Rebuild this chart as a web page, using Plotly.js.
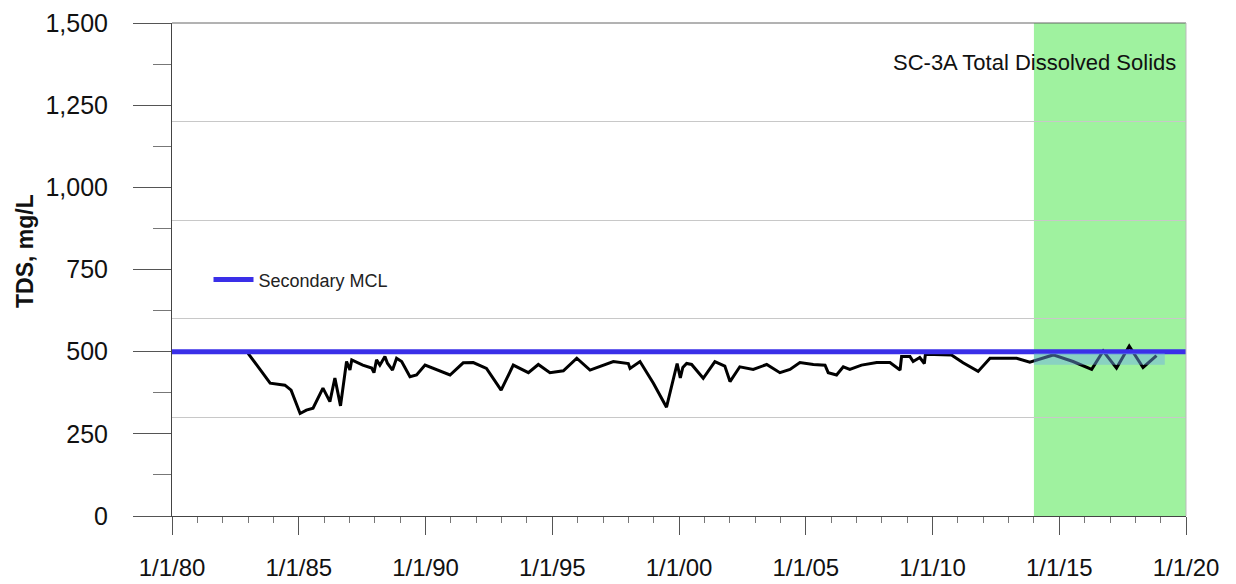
<!DOCTYPE html>
<html>
<head>
<meta charset="utf-8">
<script src="https://cdn.plot.ly/plotly-3.0.1.min.js"></script>
<style>html,body{margin:0;padding:0;background:#fff;}#chart{width:1236px;height:584px;}</style>
</head>
<body>
<div id="chart"></div>
<script>
// TDS sample dates and values (mg/L)
const sampleDates = [
 '1983-01-01','1983-11-15','1984-06-15','1984-09-12','1985-01-20','1985-04-20','1985-07-25','1985-12-15',
 '1986-03-25','1986-06-05','1986-08-25','1986-11-20','1987-01-08','1987-02-03','1987-07-12','1987-11-17',
 '1987-12-20','1988-01-26','1988-03-14','1988-05-26','1988-07-01','1988-09-12','1988-11-10','1989-01-22',
 '1989-05-22','1989-08-25','1989-12-25','1990-12-20','1991-06-28','1991-11-20','1992-05-28','1992-12-25',
 '1993-06-18','1994-01-22','1994-06-14','1994-11-28','1995-06-10','1995-12-20','1996-06-28','1997-05-30',
 '1998-01-01','1998-01-26','1998-06-18','1998-12-28','1999-07-05','1999-12-05','2000-01-20','2000-02-25',
 '2000-04-20','2000-07-01','2000-12-15','2001-06-01','2001-10-22','2002-01-05','2002-05-26','2002-12-05',
 '2003-06-18','2003-12-25','2004-05-18','2004-10-08','2005-04-20','2005-10-05','2005-11-20','2006-03-20',
 '2006-06-25','2006-09-27','2007-03-15','2007-10-20','2008-04-27','2008-09-20','2008-10-12','2009-02-10',
 '2009-03-28','2009-07-01','2009-09-05','2009-09-20','2010-10-01','2011-03-17','2011-10-20','2012-04-08',
 '2013-04-27','2013-11-03','2014-10-05','2015-07-18','2016-04-12','2016-09-25','2017-04-05','2017-10-05',
 '2018-04-22','2018-11-02'
];
const tdsValues = [
 495,404,398,383,312,322,328,389,
 348,420,335,470,444,475,459,450,
 436,475,459,485,465,444,480,470,
 424,429,459,429,466,467,449,383,
 459,436,461,436,442,480,444,470,
 464,449,470,404,331,464,420,452,
 464,461,419,470,456,409,454,446,
 461,436,446,467,461,459,436,429,
 454,446,459,467,467,444,485,485,
 470,482,464,492,490,466,440,480,
 480,468,490,470,446,502,450,517,
 452,488
];
// Secondary MCL
const mclDates = ['1980-01-01','2020-01-01'];
const mclValues = [500, 500];
// Highlighted period and light band
const highlightStart = '2014-01-01', highlightEnd = '2020-01-01';
const bandStart = '2014-01-01', bandEnd = '2019-03-01', bandLow = 460, bandHigh = 495;
// Ticks
const yTickVals = [0,250,500,750,1000,1250,1500];
const yTickText = ['0','250','500','750','1,000','1,250','1,500'];
const xTickVals = ['1980-01-01','1985-01-01','1990-01-01','1995-01-01','2000-01-01','2005-01-01','2010-01-01','2015-01-01','2020-01-01'];
const xTickText = ['1/1/80','1/1/85','1/1/90','1/1/95','1/1/00','1/1/05','1/1/10','1/1/15','1/1/20'];

const sans = '"Liberation Sans", Arial, sans-serif';

const traces = [
  {x: sampleDates, y: tdsValues, type: 'scatter', mode: 'lines',
   line: {color: '#000000', width: 3}, showlegend: false},
  {x: mclDates, y: mclValues, type: 'scatter', mode: 'lines', name: 'Secondary MCL',
   line: {color: '#3a2fe8', width: 5}},
  {x: [], y: [], yaxis: 'y2', showlegend: false, type: 'scatter'}
];

const layout = {
  width: 1236, height: 584,
  margin: {l: 172, r: 50, t: 23, b: 68},
  paper_bgcolor: '#ffffff', plot_bgcolor: '#ffffff',
  showlegend: true,
  legend: {x: 0.036, y: 0.479, xanchor: 'left', yanchor: 'middle', bgcolor: 'rgba(0,0,0,0)',
           itemwidth: 40,
           font: {family: sans, size: 18, color: '#222'}},
  xaxis: {
    type: 'date', range: ['1980-01-01','2020-01-01'],
    tickvals: xTickVals, ticktext: xTickText,
    ticks: 'outside', ticklen: 18, tickcolor: '#555', tickwidth: 1,
    ticklabelstandoff: 12,
    showline: true, linecolor: '#444', linewidth: 1,
    showgrid: false, zeroline: false,
    tickfont: {family: sans, size: 24, color: '#111'},
    minor: {dtick: 'M12', tick0: '1980-01-01', ticks: 'outside', ticklen: 6, tickcolor: '#777', showgrid: false}
  },
  yaxis: {
    range: [0, 1500], tickvals: yTickVals, ticktext: yTickText,
    ticks: 'outside', ticklen: 38, tickcolor: '#555', tickwidth: 1,
    ticklabelstandoff: 20,
    showline: true, linecolor: '#444', linewidth: 1,
    showgrid: false, zeroline: false,
    tickfont: {family: sans, size: 25, color: '#111'},
    minor: {dtick: 125, tick0: 0, ticks: 'outside', ticklen: 18, tickcolor: '#777', showgrid: false}
  },
  yaxis2: {
    overlaying: 'y', range: [0, 1500], tick0: 0, dtick: 300,
    showgrid: true, gridcolor: '#c8c8c8', gridwidth: 1,
    showticklabels: false, ticks: '', zeroline: false, showline: false
  },
  shapes: [
    {type: 'rect', xref: 'x', yref: 'paper', x0: highlightStart, x1: highlightEnd, y0: 0, y1: 1,
     fillcolor: '#9ff29f', line: {width: 0}, layer: 'below'},
    {type: 'rect', xref: 'x', yref: 'y', x0: bandStart, x1: bandEnd, y0: bandLow, y1: bandHigh,
     fillcolor: 'rgba(110,170,235,0.45)', line: {width: 0}, layer: 'above'},
    {type: 'line', xref: 'paper', yref: 'paper', x0: 0, x1: 1, y0: 1, y1: 1,
     line: {color: '#666', width: 1}},
    {type: 'line', xref: 'paper', yref: 'paper', x0: 1, x1: 1, y0: 0, y1: 1,
     line: {color: '#bbb', width: 1}}
  ],
  annotations: [
    {text: 'SC-3A Total Dissolved Solids', xref: 'paper', yref: 'paper', x: 0.992, y: 0.92,
     xanchor: 'right', yanchor: 'middle', showarrow: false,
     font: {family: sans, size: 22, color: '#111'}},
    {text: '<b>TDS, mg/L</b>', xref: 'paper', yref: 'paper', x: -0.145, y: 0.5375,
     xanchor: 'center', yanchor: 'middle', textangle: -90, showarrow: false,
     font: {family: sans, size: 23, color: '#111'}}
  ]
};

Plotly.newPlot('chart', traces, layout, {displayModeBar: false, staticPlot: true});
</script>
</body>
</html>
